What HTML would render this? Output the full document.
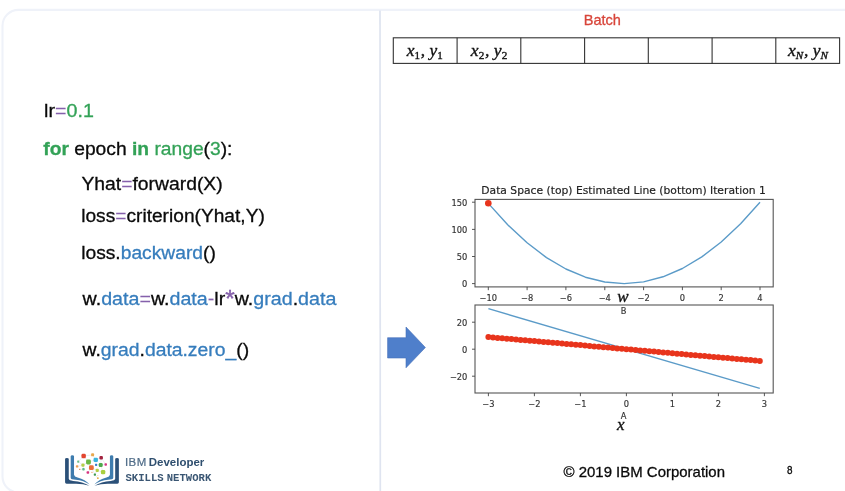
<!DOCTYPE html>
<html lang="en"><head><meta charset="utf-8"><title>Batch gradient descent</title>
<style>
html,body{margin:0;padding:0;background:#fff;}
body{width:845px;height:491px;position:relative;overflow:hidden;font-family:"Liberation Sans",sans-serif;}
svg{position:absolute;left:0;top:0;}
.tk{font-family:"DejaVu Sans",sans-serif;font-size:8.3px;fill:#333;stroke:#333;stroke-width:0.15px;}
.tt{font-family:"DejaVu Sans",sans-serif;font-size:9.8px;fill:#222;stroke:#222;stroke-width:0.15px;}
.mi{font-family:"Liberation Serif",serif;font-style:italic;fill:#111;stroke:#111;stroke-width:0.35px;}
.ln{position:absolute;white-space:nowrap;transform-origin:0 0;color:#111;line-height:1;}
.g{color:#33a257;} .p{color:#8560ab;} .b{color:#367dbd;}
b{font-weight:bold;}
.cd{font-family:"Liberation Sans",sans-serif;fill:#0a0a0a;stroke:#0a0a0a;stroke-width:0.3px}.g{fill:#33a257;stroke:#33a257}.p{fill:#8560ab;stroke:#8560ab;stroke-width:0.12px}.b{fill:#367dbd;stroke:#367dbd}.sb{font-size:10.5px}.up{font-style:normal}.rd{fill:#d8453a;stroke:#d8453a}.ib1{fill:#4f6c88;stroke:#4f6c88;stroke-width:0.2px;letter-spacing:0.5px}.ib2{fill:#2f4f6f;stroke:none}
</style></head><body>
<svg width="845" height="491" viewBox="0 0 845 491">
<rect x="2.5" y="9.9" width="900" height="482.6" rx="16" fill="none" stroke="#eff2f9" stroke-width="2.1"/>
<line x1="380" y1="10.5" x2="380.3" y2="491" stroke="#dfe4f0" stroke-width="1.7"/>
<rect x="393.3" y="37.8" width="446.3" height="25.6" fill="#fff" stroke="#333" stroke-width="1.1"/>
<line x1="457.1" y1="37.8" x2="457.1" y2="63.4" stroke="#333" stroke-width="1.1"/>
<line x1="520.8" y1="37.8" x2="520.8" y2="63.4" stroke="#333" stroke-width="1.1"/>
<line x1="584.6" y1="37.8" x2="584.6" y2="63.4" stroke="#333" stroke-width="1.1"/>
<line x1="648.3" y1="37.8" x2="648.3" y2="63.4" stroke="#333" stroke-width="1.1"/>
<line x1="712.1" y1="37.8" x2="712.1" y2="63.4" stroke="#333" stroke-width="1.1"/>
<line x1="775.8" y1="37.8" x2="775.8" y2="63.4" stroke="#333" stroke-width="1.1"/>
<path d="M387.6 337.7H406V327L425.4 347.5L406 367.8V358H387.6Z" fill="#4f7fcb" stroke="#456fb8" stroke-width="0.6"/>
<rect x="475.0" y="199.4" width="298.2" height="87.5" fill="#fff" stroke="#555" stroke-width="1.1"/>
<rect x="475.0" y="305.0" width="298.2" height="88.0" fill="#fff" stroke="#555" stroke-width="1.1"/>
<line x1="472.0" y1="283.6" x2="475.0" y2="283.6" stroke="#444" stroke-width="0.9"/>
<text class="tk" text-anchor="end" x="467.4" y="287.2">0</text>
<line x1="472.0" y1="256.5" x2="475.0" y2="256.5" stroke="#444" stroke-width="0.9"/>
<text class="tk" text-anchor="end" x="467.4" y="260.1">50</text>
<line x1="472.0" y1="229.4" x2="475.0" y2="229.4" stroke="#444" stroke-width="0.9"/>
<text class="tk" text-anchor="end" x="467.4" y="233.0">100</text>
<line x1="472.0" y1="202.2" x2="475.0" y2="202.2" stroke="#444" stroke-width="0.9"/>
<text class="tk" text-anchor="end" x="467.4" y="205.8">150</text>
<line x1="488.3" y1="286.9" x2="488.3" y2="290.2" stroke="#444" stroke-width="0.9"/>
<text class="tk" text-anchor="middle" x="488.3" y="300.9">−10</text>
<line x1="527.1" y1="286.9" x2="527.1" y2="290.2" stroke="#444" stroke-width="0.9"/>
<text class="tk" text-anchor="middle" x="527.1" y="300.9">−8</text>
<line x1="565.9" y1="286.9" x2="565.9" y2="290.2" stroke="#444" stroke-width="0.9"/>
<text class="tk" text-anchor="middle" x="565.9" y="300.9">−6</text>
<line x1="604.8" y1="286.9" x2="604.8" y2="290.2" stroke="#444" stroke-width="0.9"/>
<text class="tk" text-anchor="middle" x="604.8" y="300.9">−4</text>
<line x1="643.6" y1="286.9" x2="643.6" y2="290.2" stroke="#444" stroke-width="0.9"/>
<text class="tk" text-anchor="middle" x="643.6" y="300.9">−2</text>
<line x1="682.4" y1="286.9" x2="682.4" y2="290.2" stroke="#444" stroke-width="0.9"/>
<text class="tk" text-anchor="middle" x="682.4" y="300.9">0</text>
<line x1="721.2" y1="286.9" x2="721.2" y2="290.2" stroke="#444" stroke-width="0.9"/>
<text class="tk" text-anchor="middle" x="721.2" y="300.9">2</text>
<line x1="760.0" y1="286.9" x2="760.0" y2="290.2" stroke="#444" stroke-width="0.9"/>
<text class="tk" text-anchor="middle" x="760.0" y="300.9">4</text>
<line x1="472.0" y1="376.2" x2="475.0" y2="376.2" stroke="#444" stroke-width="0.9"/>
<text class="tk" text-anchor="end" x="467.4" y="379.8">−20</text>
<line x1="472.0" y1="349.2" x2="475.0" y2="349.2" stroke="#444" stroke-width="0.9"/>
<text class="tk" text-anchor="end" x="467.4" y="352.8">0</text>
<line x1="472.0" y1="322.2" x2="475.0" y2="322.2" stroke="#444" stroke-width="0.9"/>
<text class="tk" text-anchor="end" x="467.4" y="325.8">20</text>
<line x1="488.4" y1="393" x2="488.4" y2="396.2" stroke="#444" stroke-width="0.9"/>
<text class="tk" text-anchor="middle" x="488.4" y="406.9">−3</text>
<line x1="534.4" y1="393" x2="534.4" y2="396.2" stroke="#444" stroke-width="0.9"/>
<text class="tk" text-anchor="middle" x="534.4" y="406.9">−2</text>
<line x1="580.4" y1="393" x2="580.4" y2="396.2" stroke="#444" stroke-width="0.9"/>
<text class="tk" text-anchor="middle" x="580.4" y="406.9">−1</text>
<line x1="626.4" y1="393" x2="626.4" y2="396.2" stroke="#444" stroke-width="0.9"/>
<text class="tk" text-anchor="middle" x="626.4" y="406.9">0</text>
<line x1="672.4" y1="393" x2="672.4" y2="396.2" stroke="#444" stroke-width="0.9"/>
<text class="tk" text-anchor="middle" x="672.4" y="406.9">1</text>
<line x1="718.4" y1="393" x2="718.4" y2="396.2" stroke="#444" stroke-width="0.9"/>
<text class="tk" text-anchor="middle" x="718.4" y="406.9">2</text>
<line x1="764.4" y1="393" x2="764.4" y2="396.2" stroke="#444" stroke-width="0.9"/>
<text class="tk" text-anchor="middle" x="764.4" y="406.9">3</text>
<polyline points="488.3,203.4 507.7,224.8 527.1,242.8 546.5,257.6 565.9,269.0 585.4,277.2 604.8,282.0 624.2,283.6 643.6,281.9 663.0,276.8 682.4,268.5 701.8,256.9 721.2,242.0 740.6,223.8 760.0,202.3" fill="none" stroke="#5b9bc8" stroke-width="1.4" stroke-linejoin="round"/>
<circle cx="488.3" cy="203.3" r="3.3" fill="#e8341c"/>
<line x1="488.4" y1="308.7" x2="759.8" y2="388.4" stroke="#5b9bc8" stroke-width="1.4"/>
<g fill="#e8341c"><circle cx="488.4" cy="337.1" r="3"/><circle cx="493.0" cy="337.5" r="3"/><circle cx="497.6" cy="337.9" r="3"/><circle cx="502.2" cy="338.3" r="3"/><circle cx="506.8" cy="338.7" r="3"/><circle cx="511.4" cy="339.1" r="3"/><circle cx="516.0" cy="339.5" r="3"/><circle cx="520.6" cy="339.9" r="3"/><circle cx="525.2" cy="340.3" r="3"/><circle cx="529.8" cy="340.7" r="3"/><circle cx="534.4" cy="341.1" r="3"/><circle cx="539.0" cy="341.5" r="3"/><circle cx="543.6" cy="341.9" r="3"/><circle cx="548.2" cy="342.3" r="3"/><circle cx="552.8" cy="342.7" r="3"/><circle cx="557.4" cy="343.1" r="3"/><circle cx="562.0" cy="343.5" r="3"/><circle cx="566.6" cy="343.9" r="3"/><circle cx="571.2" cy="344.3" r="3"/><circle cx="575.8" cy="344.7" r="3"/><circle cx="580.4" cy="345.1" r="3"/><circle cx="585.0" cy="345.6" r="3"/><circle cx="589.6" cy="346.0" r="3"/><circle cx="594.2" cy="346.4" r="3"/><circle cx="598.8" cy="346.8" r="3"/><circle cx="603.4" cy="347.2" r="3"/><circle cx="608.0" cy="347.6" r="3"/><circle cx="612.6" cy="348.0" r="3"/><circle cx="617.2" cy="348.4" r="3"/><circle cx="621.8" cy="348.8" r="3"/><circle cx="626.4" cy="349.2" r="3"/><circle cx="631.0" cy="349.6" r="3"/><circle cx="635.6" cy="350.0" r="3"/><circle cx="640.2" cy="350.4" r="3"/><circle cx="644.8" cy="350.8" r="3"/><circle cx="649.4" cy="351.2" r="3"/><circle cx="654.0" cy="351.6" r="3"/><circle cx="658.6" cy="352.0" r="3"/><circle cx="663.2" cy="352.4" r="3"/><circle cx="667.8" cy="352.8" r="3"/><circle cx="672.4" cy="353.2" r="3"/><circle cx="677.0" cy="353.7" r="3"/><circle cx="681.6" cy="354.1" r="3"/><circle cx="686.2" cy="354.5" r="3"/><circle cx="690.8" cy="354.9" r="3"/><circle cx="695.4" cy="355.3" r="3"/><circle cx="700.0" cy="355.7" r="3"/><circle cx="704.6" cy="356.1" r="3"/><circle cx="709.2" cy="356.5" r="3"/><circle cx="713.8" cy="356.9" r="3"/><circle cx="718.4" cy="357.3" r="3"/><circle cx="723.0" cy="357.7" r="3"/><circle cx="727.6" cy="358.1" r="3"/><circle cx="732.2" cy="358.5" r="3"/><circle cx="736.8" cy="358.9" r="3"/><circle cx="741.4" cy="359.3" r="3"/><circle cx="746.0" cy="359.7" r="3"/><circle cx="750.6" cy="360.1" r="3"/><circle cx="755.2" cy="360.5" r="3"/><circle cx="759.8" cy="360.9" r="3"/></g>
<path d="M 65.08 458.95 Q 65.08 457.90 66.92 457.90 Q 68.76 457.90 68.76 458.95 L 68.76 478.84 Q 69.02 480.59 73.14 480.94 Q 82.78 481.73 89.35 485.67 Q 81.90 483.22 73.14 483.74 L 66.57 483.74 Q 65.08 483.74 65.08 482.34 Z" fill="#2b5078"/><path d="M 70.69 456.32 Q 70.69 455.27 72.35 455.27 Q 74.02 455.27 74.02 456.32 L 74.02 474.72 Q 74.28 476.73 77.52 477.43 Q 85.41 479.54 89.61 484.44 Q 83.65 480.41 75.77 479.71 L 72.09 479.36 Q 70.69 479.19 70.69 477.79 Z" fill="#3e7cae"/>
<path d="M 118.87 458.95 Q 118.87 457.90 117.03 457.90 Q 115.19 457.90 115.19 458.95 L 115.19 478.84 Q 114.93 480.59 110.81 480.94 Q 101.17 481.73 94.60 485.67 Q 102.05 483.22 110.81 483.74 L 117.38 483.74 Q 118.87 483.74 118.87 482.34 Z" fill="#2b5078"/><path d="M 113.26 456.32 Q 113.26 455.27 111.60 455.27 Q 109.93 455.27 109.93 456.32 L 109.93 474.72 Q 109.67 476.73 106.43 477.43 Q 98.55 479.54 94.34 484.44 Q 100.30 480.41 108.18 479.71 L 111.86 479.36 Q 113.26 479.19 113.26 477.79 Z" fill="#3e7cae"/>
<g stroke="#d5dde6" stroke-width="0.5"><line x1="83.7" y1="456.1" x2="92.6" y2="454.8"/><line x1="83.7" y1="456.1" x2="88.5" y2="462.0"/><line x1="92.6" y1="454.8" x2="95.7" y2="459.8"/><line x1="95.7" y1="459.8" x2="101.2" y2="457.8"/><line x1="95.7" y1="459.8" x2="88.5" y2="462.0"/><line x1="88.5" y1="462.0" x2="83.0" y2="465.1"/><line x1="83.0" y1="465.1" x2="77.1" y2="466.4"/><line x1="78.2" y1="461.6" x2="83.0" y2="465.1"/><line x1="88.5" y1="462.0" x2="91.4" y2="467.7"/><line x1="91.4" y1="467.7" x2="97.2" y2="470.3"/><line x1="97.2" y1="470.3" x2="103.1" y2="472.1"/><line x1="100.7" y1="465.1" x2="103.1" y2="472.1"/><line x1="100.7" y1="465.1" x2="105.7" y2="464.5"/><line x1="101.2" y1="457.8" x2="100.7" y2="465.1"/><line x1="95.7" y1="459.8" x2="96.1" y2="464.8"/><line x1="96.1" y1="464.8" x2="100.7" y2="465.1"/><line x1="91.4" y1="467.7" x2="87.9" y2="472.5"/><line x1="91.4" y1="467.7" x2="94.9" y2="474.5"/><line x1="94.9" y1="474.5" x2="97.8" y2="478.2"/><line x1="83.0" y1="465.1" x2="83.5" y2="469.3"/><line x1="83.5" y1="469.3" x2="79.7" y2="469.3"/><line x1="83.7" y1="456.1" x2="78.2" y2="461.6"/><line x1="101.2" y1="457.8" x2="105.7" y2="464.5"/><line x1="97.2" y1="470.3" x2="94.9" y2="474.5"/></g>
<rect x="81.46" y="453.87" width="4.38" height="4.38" rx="1.31" fill="#e2452f"/>
<rect x="91.10" y="453.34" width="2.98" height="2.98" rx="0.89" fill="#e9a84c"/>
<rect x="99.42" y="456.06" width="3.50" height="3.50" rx="1.05" fill="#a3223f"/>
<rect x="93.55" y="457.64" width="4.38" height="4.38" rx="1.31" fill="#3ab5dd"/>
<rect x="86.06" y="459.61" width="4.82" height="4.82" rx="1.45" fill="#6cb843"/>
<rect x="77.17" y="460.53" width="2.10" height="2.10" rx="0.63" fill="#6dbf8b"/>
<rect x="81.38" y="463.51" width="3.15" height="3.15" rx="0.95" fill="#b5cf4a"/>
<rect x="75.86" y="465.17" width="2.45" height="2.45" rx="0.74" fill="#eba052"/>
<rect x="95.00" y="463.72" width="2.19" height="2.19" rx="0.66" fill="#3a7fd0"/>
<rect x="98.76" y="463.11" width="3.94" height="3.94" rx="1.18" fill="#4ea84e"/>
<rect x="104.50" y="463.24" width="2.45" height="2.45" rx="0.74" fill="#d63384"/>
<rect x="88.95" y="465.30" width="4.82" height="4.82" rx="1.45" fill="#ea6e3a"/>
<rect x="82.25" y="468.06" width="2.45" height="2.45" rx="0.74" fill="#5dbb8a"/>
<rect x="79.05" y="468.63" width="1.31" height="1.31" rx="0.39" fill="#e88f4a"/>
<rect x="95.65" y="468.76" width="3.15" height="3.15" rx="0.95" fill="#b4cf45"/>
<rect x="100.91" y="469.90" width="4.38" height="4.38" rx="1.31" fill="#a9cf3f"/>
<rect x="86.54" y="471.22" width="2.63" height="2.63" rx="0.79" fill="#d6337f"/>
<rect x="93.77" y="473.45" width="2.19" height="2.19" rx="0.66" fill="#3f9a4e"/>
<rect x="91.45" y="471.83" width="1.05" height="1.05" rx="0.32" fill="#e88f4a"/>
<rect x="96.97" y="477.35" width="1.75" height="1.75" rx="0.53" fill="#e9b04c"/>
<rect x="97.41" y="474.89" width="0.88" height="0.88" rx="0.26" fill="#e9c46c"/>
<text class="tt" x="481.3" y="194.3" textLength="284.5" lengthAdjust="spacingAndGlyphs">Data Space (top) Estimated Line (bottom) Iteration 1</text>
<text class="tk" text-anchor="middle" x="623.6" y="313.8">B</text>
<text class="tk" text-anchor="middle" x="623.5" y="419">A</text>
<text class="mi" text-anchor="middle" x="623" y="302" font-size="17">w</text>
<text class="mi" text-anchor="middle" x="620.7" y="429.5" font-size="17">x</text>
</svg>
<svg width="845" height="491" viewBox="0 0 845 491">
<text class="cd" font-size="18.5" transform="translate(44.04,116.8) scale(1.0644,1)">lr<tspan class="p">=</tspan><tspan class="g">0.1</tspan></text>
<text class="cd" font-size="18.5" transform="translate(43.24,154.6) scale(1.0402,1)"><tspan class="g" font-weight="bold">for</tspan> epoch <tspan class="g" font-weight="bold">in</tspan> <tspan class="g">range</tspan>(<tspan class="g">3</tspan>):</text>
<text class="cd" font-size="18.5" transform="translate(81.44,189.7) scale(1.0455,1)">Yhat<tspan class="p">=</tspan>forward(X)</text>
<text class="cd" font-size="18.5" transform="translate(81.16,222.3) scale(1.0359,1)">loss<tspan class="p">=</tspan>criterion(Yhat,Y)</text>
<text class="cd" font-size="18.5" transform="translate(81.16,258.7) scale(1.0416,1)">loss.<tspan class="b">backward</tspan>()</text>
<text class="cd" font-size="18.5" transform="translate(82.57,304.8) scale(1.0633,1)">w.<tspan class="b">data</tspan><tspan class="p">=</tspan>w.<tspan class="b">data</tspan><tspan class="p">-</tspan>lr<tspan class="p" font-size="23" dy="2.2" style="stroke-width:0.4px">*</tspan><tspan dy="-2.2">w.</tspan><tspan class="b">grad</tspan>.<tspan class="b">data</tspan></text>
<text class="cd" font-size="18.5" transform="translate(82.56,356.2) scale(1.0457,1)">w.<tspan class="b">grad</tspan>.<tspan class="b">data.zero_</tspan>()</text>
<text class="cd rd" font-size="14.4" transform="translate(583.69,25.4) scale(1.0114,1)">Batch</text>
<text class="cd" font-size="15.4" transform="translate(563.50,476.7) scale(0.9722,1)">© 2019 IBM Corporation</text>
<text class="cd" font-size="10.4" transform="translate(786.96,473.9) scale(0.9524,1)">8</text>
<text class="cd ib2" word-spacing="-1.2" font-size="10.6" transform="translate(124.89,465.9) scale(1.0828,1)"><tspan class="ib1">IBM</tspan> <tspan font-weight="bold">Developer</tspan></text>
<text font-family="Liberation Mono, monospace" font-weight="bold" fill="#3a5673" word-spacing="-3.5" font-size="11.4" transform="translate(125.47,480.9) scale(0.9315,1)">SKILLS NETWORK</text>
<text class="mi" font-size="16.5" transform="translate(406.73,55.5) scale(1.0511,1)">x<tspan class="sb up" dy="3.2">1</tspan><tspan dy="-3.2" dx="0.8">, </tspan>y<tspan class="sb up" dy="3.2">1</tspan></text>
<text class="mi" font-size="16.5" transform="translate(470.83,55.5) scale(1.0657,1)">x<tspan class="sb up" dy="3.2">2</tspan><tspan dy="-3.2" dx="0.8">, </tspan>y<tspan class="sb up" dy="3.2">2</tspan></text>
<text class="mi" font-size="16.5" transform="translate(787.93,55.5) scale(1.0615,1)">x<tspan class="sb" dy="3.2">N</tspan><tspan dy="-3.2" dx="0.8">, </tspan>y<tspan class="sb" dy="3.2">N</tspan></text>
</svg>
</body></html>
